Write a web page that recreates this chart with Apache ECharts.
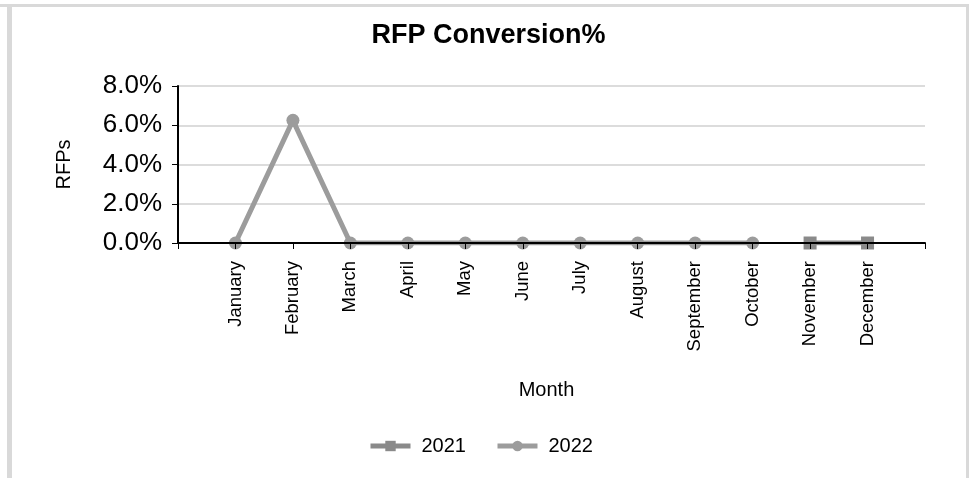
<!DOCTYPE html>
<html>
<head>
<meta charset="utf-8">
<style>
  html, body { margin: 0; padding: 0; background: #fff; }
  #chart { width: 977px; height: 478px; }
</style>
<script src="https://cdn.jsdelivr.net/npm/echarts@6/dist/echarts.min.js"></script>
</head>
<body>
<div id="chart"></div>
<script>
// Months shown on the category axis (padded with blank slots at both ends)
const months = ['January', 'February', 'March', 'April', 'May', 'June', 'July',
  'August', 'September', 'October', 'November', 'December'];
// Conversion rate per month, in percent (null = no data for that month)
const conv2021 = [null, null, null, null, null, null, null, null, null, null, 0, 0];
const conv2022 = [0, 6.25, 0, 0, 0, 0, 0, 0, 0, 0, null, null];
const yTicks = [0, 2, 4, 6, 8];

const pad = arr => [null].concat(arr, [null]);
const font = 'Liberation Sans, Arial, sans-serif';

const chart = echarts.init(document.getElementById('chart'), null, { renderer: 'canvas' });
chart.setOption({
  animation: false,
  backgroundColor: '#fff',
  textStyle: { fontFamily: font },
  graphic: [
    { type: 'rect', shape: { x: 0, y: 4, width: 969, height: 3 }, style: { fill: '#d9d9d9' } },
    { type: 'rect', shape: { x: 7, y: 4, width: 5, height: 474 }, style: { fill: '#d9d9d9' } },
    { type: 'rect', shape: { x: 966, y: 4, width: 3, height: 474 }, style: { fill: '#d9d9d9' } }
  ],
  title: {
    text: 'RFP Conversion%',
    left: 'center',
    top: 17,
    textStyle: { fontFamily: font, fontSize: 27, fontWeight: 'bold', color: '#000' }
  },
  legend: {
    data: ['2021', '2022'],
    left: 363,
    top: 431,
    itemWidth: 40,
    itemHeight: 13,
    itemGap: 29,
    lineStyle: { width: 5 },
    textStyle: { fontFamily: font, fontSize: 20, color: '#000', padding: [0, 0, 0, 6] }
  },
  grid: { left: 178, right: 52, top: 86, bottom: 235, containLabel: false },
  xAxis: {
    type: 'category',
    data: [''].concat(months, ['']),
    boundaryGap: false,
    z: 5,
    name: 'Month',
    nameLocation: 'middle',
    nameGap: 137,
    nameTextStyle: { fontFamily: font, fontSize: 20, color: '#000', padding: [0, 10, 0, 0] },
    axisLine: { lineStyle: { color: '#000', width: 2 } },
    axisTick: { show: true, length: 6, lineStyle: { color: '#000', width: 1 } },
    axisLabel: { rotate: 90, margin: 18, fontSize: 18.5, color: '#000', fontFamily: font, interval: 0 },
    splitLine: { show: false }
  },
  yAxis: {
    type: 'value',
    min: yTicks[0],
    max: yTicks[yTicks.length - 1],
    interval: 2,
    name: 'RFPs',
    nameLocation: 'middle',
    nameGap: 104,
    nameTextStyle: { fontFamily: font, fontSize: 20, color: '#000' },
    axisLine: { show: true, lineStyle: { color: '#000', width: 2 } },
    axisTick: { show: true, length: 6, lineStyle: { color: '#000', width: 1 } },
    axisLabel: {
      margin: 16, fontSize: 26, color: '#000', fontFamily: font,
      formatter: v => v.toFixed(1) + '%'
    },
    splitLine: { show: true, lineStyle: { color: '#dcdcdc', width: 2 } }
  },
  series: [
    {
      name: '2021',
      type: 'line',
      data: pad(conv2021),
      color: '#8a8a8a',
      symbol: 'rect',
      symbolSize: 13,
      lineStyle: { width: 5, color: '#8a8a8a' },
      itemStyle: { color: '#8a8a8a' }
    },
    {
      name: '2022',
      type: 'line',
      data: pad(conv2022),
      color: '#9c9c9c',
      symbol: 'circle',
      symbolSize: 13,
      lineStyle: { width: 5, color: '#9c9c9c' },
      itemStyle: { color: '#9c9c9c' }
    }
  ]
});
</script>
</body>
</html>
